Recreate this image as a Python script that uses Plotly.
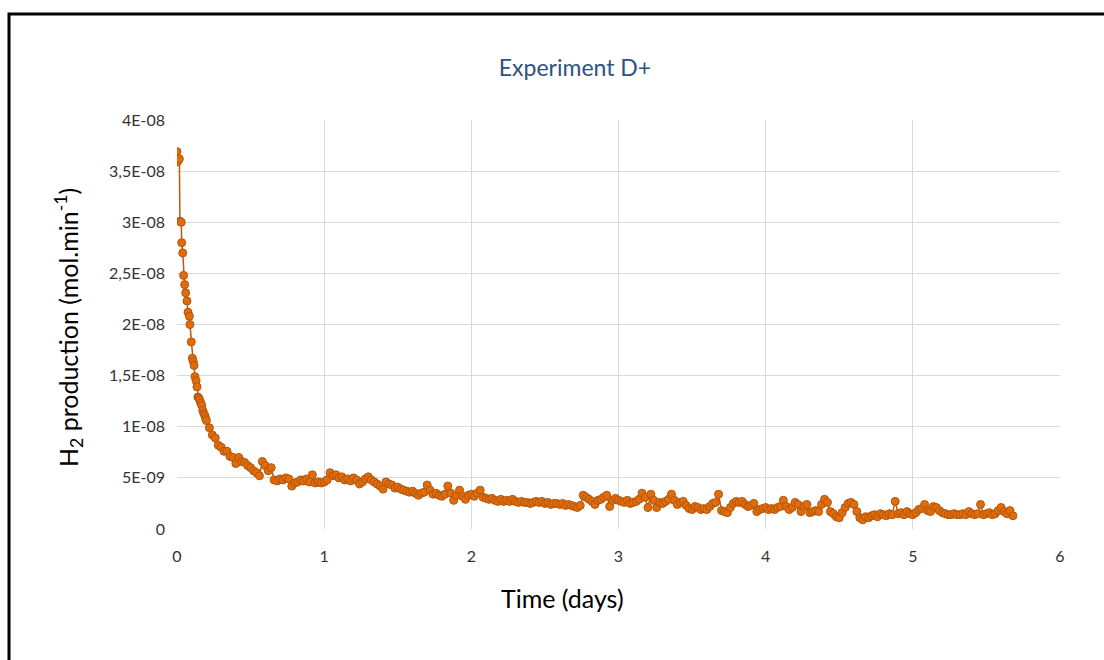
import plotly.graph_objects as go

# ---- data (time in days, H2 production in units of 1e-9 mol/min) ----
time_start = [0.000, 0.003, 0.016, 0.020, 0.029, 0.032, 0.039, 0.045, 0.052, 0.059,
              0.068, 0.075, 0.084, 0.088, 0.097, 0.104, 0.110, 0.116, 0.122, 0.130,
              0.136, 0.142, 0.148, 0.155, 0.162, 0.168, 0.175, 0.182, 0.189, 0.195]
h2_start = [36.9, 35.9, 36.2, 30.1, 30.0, 28.0, 27.0, 24.8, 23.9, 23.1,
            22.3, 21.2, 20.8, 20.0, 18.3, 16.7, 16.4, 16.0, 14.9, 14.5,
            13.9, 12.9, 12.8, 12.6, 12.3, 12.1, 11.6, 11.3, 11.1, 10.8]

time_tail = [
    0.20, 0.22, 0.24, 0.26, 0.28, 0.30, 0.32, 0.34, 0.36, 0.38,
    0.40, 0.42, 0.44, 0.46, 0.48, 0.50, 0.52, 0.54, 0.56, 0.58,
    0.60, 0.62, 0.64, 0.66, 0.68, 0.70, 0.72, 0.74, 0.76, 0.78,
    0.80, 0.82, 0.84, 0.86, 0.88, 0.90, 0.92, 0.94, 0.96, 0.98,
    1.00, 1.02, 1.04, 1.06, 1.08, 1.10, 1.12, 1.14, 1.16, 1.18,
    1.20, 1.22, 1.24, 1.26, 1.28, 1.30, 1.32, 1.34, 1.36, 1.38,
    1.40, 1.42, 1.44, 1.46, 1.48, 1.50, 1.52, 1.54, 1.56, 1.58,
    1.60, 1.62, 1.64, 1.66, 1.68, 1.70, 1.72, 1.74, 1.76, 1.78,
    1.80, 1.82, 1.84, 1.86, 1.88, 1.90, 1.92, 1.94, 1.96, 1.98,
    2.00, 2.02, 2.04, 2.06, 2.08, 2.10, 2.12, 2.14, 2.16, 2.18,
    2.20, 2.22, 2.24, 2.26, 2.28, 2.30, 2.32, 2.34, 2.36, 2.38,
    2.40, 2.42, 2.44, 2.46, 2.48, 2.50, 2.52, 2.54, 2.56, 2.58,
    2.60, 2.62, 2.64, 2.66, 2.68, 2.70, 2.72, 2.74, 2.76, 2.78,
    2.80, 2.82, 2.84, 2.86, 2.88, 2.90, 2.92, 2.94, 2.96, 2.98,
    3.00, 3.02, 3.04, 3.06, 3.08, 3.10, 3.12, 3.14, 3.16, 3.18,
    3.20, 3.22, 3.24, 3.26, 3.28, 3.30, 3.32, 3.34, 3.36, 3.38,
    3.40, 3.42, 3.44, 3.46, 3.48, 3.50, 3.52, 3.54, 3.56, 3.58,
    3.60, 3.62, 3.64, 3.66, 3.68, 3.70, 3.72, 3.74, 3.76, 3.78,
    3.80, 3.82, 3.84, 3.86, 3.88, 3.90, 3.92, 3.94, 3.96, 3.98,
    4.00, 4.02, 4.04, 4.06, 4.08, 4.10, 4.12, 4.14, 4.16, 4.18,
    4.20, 4.22, 4.24, 4.26, 4.28, 4.30, 4.32, 4.34, 4.36, 4.38,
    4.40, 4.42, 4.44, 4.46, 4.48, 4.50, 4.52, 4.54, 4.56, 4.58,
    4.60, 4.62, 4.64, 4.66, 4.68, 4.70, 4.72, 4.74, 4.76, 4.78,
    4.80, 4.82, 4.84, 4.86, 4.88, 4.90, 4.92, 4.94, 4.96, 4.98,
    5.00, 5.02, 5.04, 5.06, 5.08, 5.10, 5.12, 5.14, 5.16, 5.18,
    5.20, 5.22, 5.24, 5.26, 5.28, 5.30, 5.32, 5.34, 5.36, 5.38,
    5.40, 5.42, 5.44, 5.46, 5.48, 5.50, 5.52, 5.54, 5.56, 5.58,
    5.60, 5.62, 5.64, 5.66, 5.68]
h2_tail = [
    10.6, 9.9, 9.2, 8.9, 8.2, 8.0, 7.6, 7.6, 7.1, 7.0,
    6.4, 7.0, 6.6, 6.5, 6.2, 6.0, 5.7, 5.5, 5.2, 6.6,
    6.2, 5.7, 6.0, 4.8, 4.7, 4.9, 4.8, 5.0, 4.9, 4.2,
    4.5, 4.6, 4.8, 4.7, 4.9, 4.6, 5.3, 4.5, 4.6, 4.5,
    4.6, 4.8, 5.5, 5.2, 5.3, 5.0, 5.1, 4.8, 4.9, 4.7,
    5.0, 4.8, 4.4, 4.6, 4.9, 5.1, 4.8, 4.6, 4.4, 4.2,
    3.9, 4.6, 4.4, 4.3, 4.0, 4.1, 3.9, 3.8, 3.7, 3.6,
    3.7, 3.5, 3.3, 3.5, 3.6, 4.3, 3.8, 3.4, 3.5, 3.3,
    3.2, 3.4, 4.2, 3.5, 2.8, 3.3, 3.8, 3.2, 2.9, 3.3,
    3.4, 3.2, 3.5, 3.8, 3.1, 3.0, 2.9, 3.0, 2.8, 2.7,
    2.9, 2.7, 2.8, 2.7, 2.9, 2.7, 2.6, 2.7, 2.6, 2.6,
    2.5, 2.6, 2.7, 2.6, 2.7, 2.5, 2.6, 2.4, 2.5, 2.5,
    2.4, 2.5, 2.3, 2.4, 2.3, 2.2, 2.1, 2.3, 3.3, 3.1,
    2.9, 2.7, 2.4, 2.8, 2.9, 3.1, 3.3, 2.2, 2.8, 3.0,
    2.8, 2.7, 2.6, 2.8, 2.5, 2.6, 2.7, 2.9, 3.5, 3.1,
    2.1, 3.4, 2.8, 2.1, 2.6, 2.5, 2.7, 2.9, 3.4, 2.8,
    2.4, 2.6, 2.7, 2.3, 2.0, 1.9, 2.2, 2.1, 1.9, 2.0,
    1.9, 2.2, 2.5, 2.6, 3.4, 1.8, 1.7, 1.6, 2.1, 2.5,
    2.7, 2.6, 2.7, 2.4, 2.2, 2.3, 2.5, 1.7, 1.9, 2.0,
    2.1, 1.9, 2.0, 1.9, 2.1, 2.2, 2.8, 2.2, 1.9, 2.1,
    2.6, 2.4, 1.7, 2.2, 2.4, 1.6, 1.7, 1.8, 1.7, 2.4,
    2.9, 2.6, 1.7, 1.5, 1.2, 1.1, 1.6, 2.1, 2.5, 2.6,
    2.4, 1.7, 1.1, 0.9, 1.2, 1.1, 1.3, 1.4, 1.2, 1.5,
    1.4, 1.3, 1.5, 1.4, 2.7, 1.5, 1.6, 1.4, 1.7, 1.5,
    1.4, 1.6, 1.9, 2.0, 2.4, 1.8, 1.7, 2.2, 2.1, 1.8,
    1.6, 1.5, 1.4, 1.4, 1.5, 1.4, 1.4, 1.5, 1.4, 1.7,
    1.5, 1.4, 1.5, 2.4, 1.4, 1.5, 1.6, 1.4, 1.5, 1.8,
    2.1, 1.7, 1.5, 1.8, 1.3]

UNIT = 1e-9  # values above are in 1e-9 mol/min

y_tickvals = [0, 5e-9, 1e-8, 1.5e-8, 2e-8, 2.5e-8, 3e-8, 3.5e-8, 4e-8]
y_ticktext = ["0", "5E-09", "1E-08", "1,5E-08", "2E-08", "2,5E-08", "3E-08", "3,5E-08", "4E-08"]
x_tickvals = [0, 1, 2, 3, 4, 5, 6]
x_ticktext = ["0", "1", "2", "3", "4", "5", "6"]

title_text = "Experiment D+"
x_title = "Time (days)"
y_title = "H<sub>2</sub> production (mol.min<sup>-1</sup>)"

# ---- figure ----
times = time_start + time_tail
values = [v * UNIT for v in h2_start + h2_tail]

FONT = "Lato"
W, H = 1104, 660
L, R, T, B = 177, 44, 120, 131
pw, ph = W - L - R, H - T - B

def px(xp):
    return (xp - L) / pw

def py(yp):
    return (H - B - yp) / ph

fig = go.Figure()
fig.add_trace(go.Scatter(
    x=times, y=values, mode="lines+markers",
    line=dict(color="#B95A10", width=1.5),
    marker=dict(size=8, color="#E36C0A", line=dict(color="#B0560E", width=1)),
    showlegend=False, hoverinfo="x+y",
))

fig.update_layout(
    width=W, height=H,
    margin=dict(l=L, r=R, t=T, b=B),
    paper_bgcolor="white", plot_bgcolor="white",
    font=dict(family=FONT, color="#404040"),
    title=dict(text=title_text, x=575 / W, xanchor="center",
               y=1 - 68 / H, yanchor="middle",
               font=dict(family=FONT, size=23, color="#2E5283")),
    xaxis=dict(range=[0, 6], tickvals=x_tickvals, ticktext=x_ticktext,
               showgrid=True, gridcolor="#D9D9D9", gridwidth=1,
               zeroline=False, showline=False, ticks="",
               ticklabelstandoff=16,
               tickfont=dict(family=FONT, size=16, color="#333333")),
    yaxis=dict(range=[0, 4e-8], tickvals=y_tickvals, ticktext=y_ticktext,
               showgrid=True, gridcolor="#D9D9D9", gridwidth=1,
               zeroline=False, showline=False, ticks="",
               ticklabelstandoff=11,
               tickfont=dict(family=FONT, size=16, color="#333333")),
    annotations=[
        dict(text=x_title, x=px(562), y=py(598), xref="paper", yref="paper",
             showarrow=False, xanchor="center", yanchor="middle",
             font=dict(family=FONT, size=25, color="#000000")),
        dict(text=y_title, x=px(68), y=py(328), xref="paper", yref="paper",
             showarrow=False, xanchor="center", yanchor="middle", textangle=-90,
             font=dict(family=FONT, size=25, color="#000000")),
    ],
    shapes=[
        dict(type="rect", xref="paper", yref="paper",
             x0=px(9), x1=px(1120), y0=py(680), y1=py(14),
             line=dict(color="black", width=3), fillcolor="rgba(0,0,0,0)",
             layer="above"),
    ],
)

fig.write_html("out.html",
               config={"displayModeBar": False},
               post_script="document.body.style.margin='0';document.body.style.padding='0';")
